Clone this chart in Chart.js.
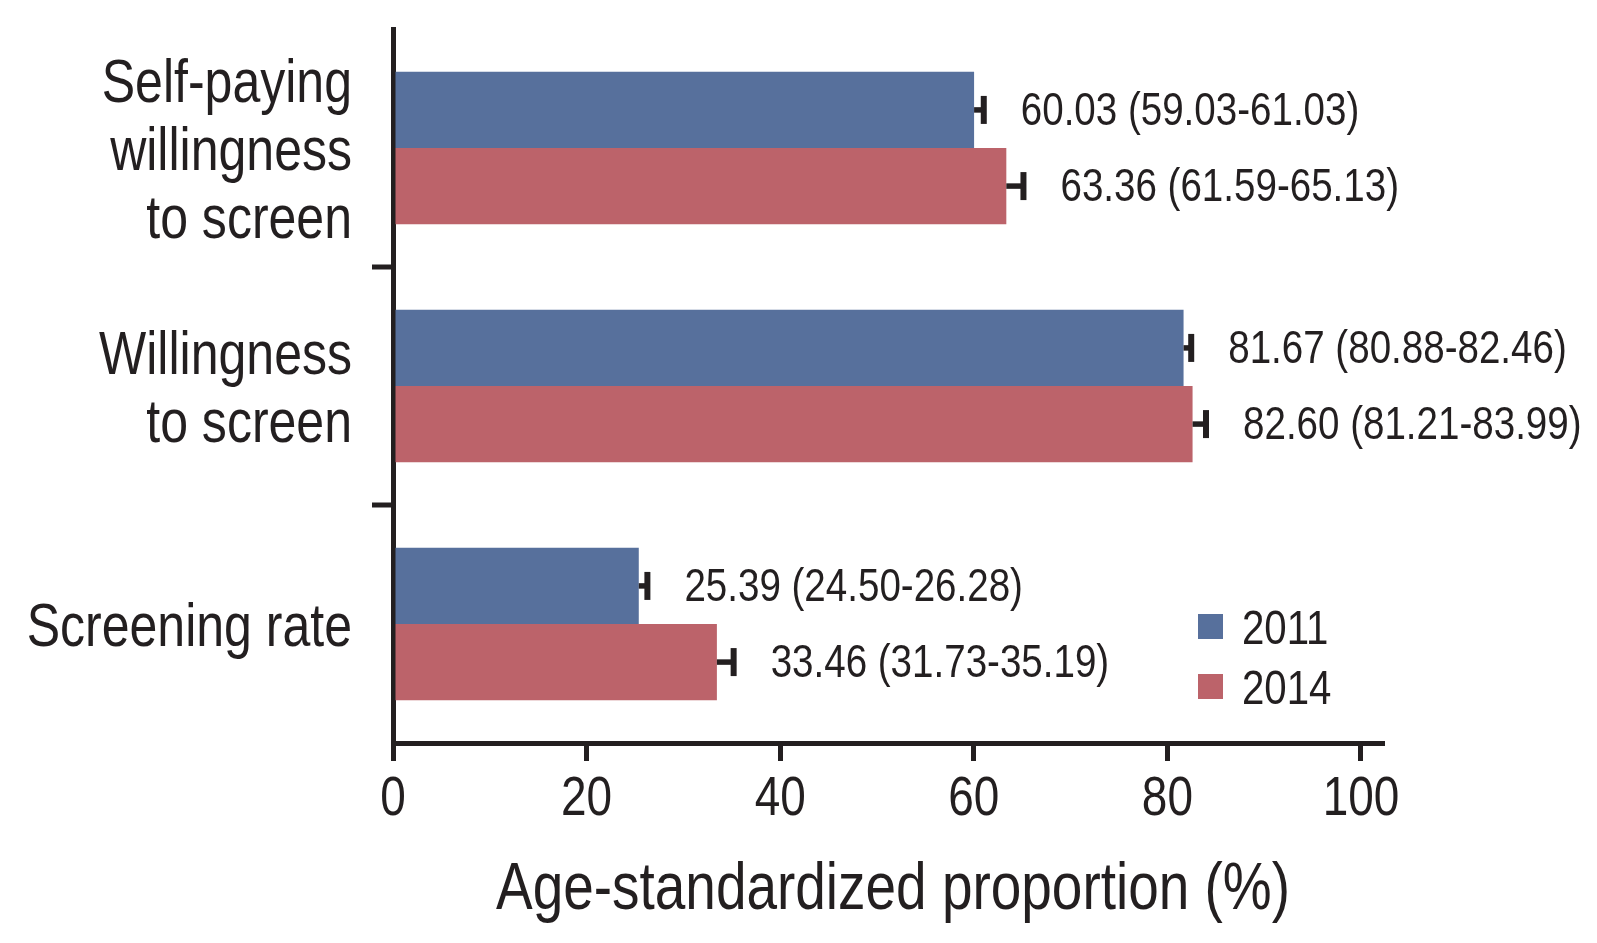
<!DOCTYPE html>
<html>
<head>
<meta charset="utf-8">
<script src="https://cdn.jsdelivr.net/npm/chart.js@4.4.1/dist/chart.umd.min.js"></script>
<style>
  html, body { margin: 0; padding: 0; background: #fff; }
  #wrap { width: 1597px; height: 943px; }
</style>
</head>
<body>
<div id="wrap"><canvas id="myBarChart" width="1597" height="943"></canvas></div>
<script>
// datos
const categories = [
    ['Self-paying', 'willingness', 'to screen'],
    ['Willingness', 'to screen'],
    ['Screening rate']
];
const seriesNames = ['2011', '2014'];
const values2011 = [60.03, 81.67, 25.39];
const lower2011 = [59.03, 80.88, 24.50];
const upper2011 = [61.03, 82.46, 26.28];
const values2014 = [63.36, 82.60, 33.46];
const lower2014 = [61.59, 81.21, 31.73];
const upper2014 = [65.13, 83.99, 35.19];
const xTicks = [0, 20, 40, 60, 80, 100];
const xTitle = 'Age-standardized proportion (%)';

const FONT = '"Liberation Sans", Arial, sans-serif';
const NARROW = 0.82; // Liberation Sans comprimida = tipo Arial Narrow
const INK = '#231F20';
const BLUE = '#57709C';
const RED = '#BC636A';

const fmt = v => v.toFixed(2);

// texto comprimido horizontalmente
function narrowText(c, text, x, y, size, align) {
    c.save();
    c.font = size + 'px ' + FONT;
    c.textAlign = align;
    c.textBaseline = 'alphabetic';
    c.translate(x, y);
    c.scale(NARROW, 1);
    c.fillText(text, 0, 0);
    c.restore();
}

// barras de error, etiquetas, ticks del eje y y leyenda
const extras = {
    id: 'extras',
    afterDatasetsDraw(chart) {
        const c = chart.ctx;
        const xs = chart.scales.x;
        const ys = chart.scales.y;
        const area = chart.chartArea;
        const sets = [
            { v: values2011, lo: lower2011, hi: upper2011 },
            { v: values2014, lo: lower2014, hi: upper2014 }
        ];
        c.save();
        c.strokeStyle = INK;
        c.fillStyle = INK;
        sets.forEach((s, di) => {
            const meta = chart.getDatasetMeta(di);
            meta.data.forEach((bar, i) => {
                const y = bar.y;
                const x0 = xs.getPixelForValue(s.v[i]);
                const x1 = xs.getPixelForValue(s.hi[i]);
                c.lineWidth = 5.5;
                c.beginPath();
                c.moveTo(x0, y);
                c.lineTo(x1, y);
                c.stroke();
                c.lineWidth = 6;
                c.beginPath();
                c.moveTo(x1, y - 14);
                c.lineTo(x1, y + 14);
                c.stroke();
                narrowText(c, fmt(s.v[i]) + ' (' + fmt(s.lo[i]) + '-' + fmt(s.hi[i]) + ')', x1 + 37, y + 15, 47, 'left');
            });
        });
        // ticks entre categorias
        c.lineWidth = 5;
        for (let i = 0; i < categories.length - 1; i++) {
            const yy = (ys.getPixelForValue(i) + ys.getPixelForValue(i + 1)) / 2;
            c.beginPath();
            c.moveTo(area.left, yy);
            c.lineTo(area.left - 21, yy);
            c.stroke();
        }
        // etiquetas de categorias
        categories.forEach((lines, i) => {
            const cy = ys.getPixelForValue(i);
            lines.forEach((t, k) => {
                const by = cy + 22 + (k - (lines.length - 1) / 2) * 68;
                narrowText(c, t, 352, by, 61, 'right');
            });
        });
        // etiquetas del eje x
        xTicks.forEach(v => {
            narrowText(c, String(v), xs.getPixelForValue(v), 815, 56, 'center');
        });
        narrowText(c, xTitle, 893, 909, 67, 'center');
        // leyenda
        chart.data.datasets.forEach((ds, di) => {
            const ly = 627 + di * 60;
            c.fillStyle = ds.backgroundColor;
            c.fillRect(1198, ly - 13, 25, 25);
            c.fillStyle = INK;
            narrowText(c, ds.label, 1242, ly + 17, 49, 'left');
        });
        c.restore();
    }
};

const ctx = document.getElementById('myBarChart');
new Chart(ctx, {
    type: 'bar',
    data: {
        labels: categories.map(l => l.join(' ')),
        datasets: [{
            label: seriesNames[0],
            data: values2011,
            backgroundColor: BLUE,
            categoryPercentage: 0.64,
            barPercentage: 1
        }, {
            label: seriesNames[1],
            data: values2014,
            backgroundColor: RED,
            categoryPercentage: 0.64,
            barPercentage: 1
        }]
    },
    options: {
        indexAxis: 'y',
        responsive: false,
        animation: false,
        devicePixelRatio: 1,
        layout: { padding: { top: 29, right: 215, bottom: 0, left: 0 } },
        plugins: {
            legend: { display: false },
            tooltip: { enabled: false }
        },
        scales: {
            x: {
                min: 0,
                max: 102.17,
                afterBuildTicks: s => { s.ticks = xTicks.map(v => ({ value: v })); },
                afterFit: s => { s.height = 200; s.paddingLeft = 0; s.paddingRight = 0; },
                border: { display: true, color: INK, width: 5 },
                grid: { display: true, drawOnChartArea: false, drawTicks: true, tickLength: 18, color: INK, lineWidth: 5 },
                ticks: { display: false }
            },
            y: {
                afterFit: s => { s.width = 393; s.paddingTop = 0; s.paddingBottom = 0; },
                border: { display: true, color: INK, width: 5 },
                grid: { display: false },
                ticks: { display: false }
            }
        }
    },
    plugins: [extras]
});
</script>
</body>
</html>
